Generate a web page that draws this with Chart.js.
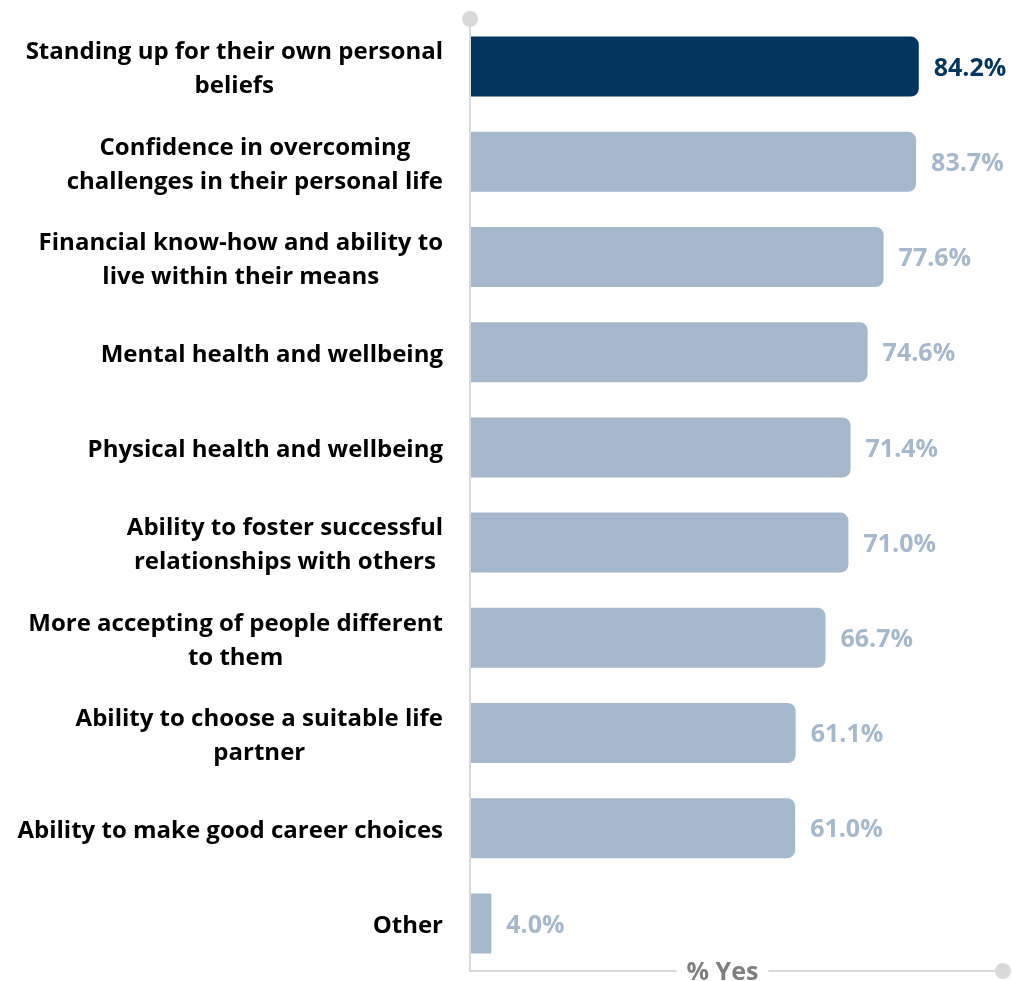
<!DOCTYPE html>
<html>
<head>
<meta charset="utf-8">
<script src="https://cdn.jsdelivr.net/npm/chart.js@4/dist/chart.umd.min.js"></script>
<style>
  html, body { margin: 0; padding: 0; background: #ffffff; }
  #wrap { width: 1013px; height: 981px; position: relative; }
</style>
</head>
<body>
<div id="wrap"><canvas id="chart" width="1013" height="981"></canvas></div>
<script>
// Survey outcomes: share answering "Yes"
const categories = [
  ["Standing up for their own personal", "beliefs"],
  ["Confidence in overcoming", "challenges in their personal life"],
  ["Financial know-how and ability to", "live within their means"],
  ["Mental health and wellbeing"],
  ["Physical health and wellbeing"],
  ["Ability to foster successful", "relationships with others"],
  ["More accepting of people different", "to them"],
  ["Ability to choose a suitable life", "partner"],
  ["Ability to make good career choices"],
  ["Other"]
];
const yesValues = [84.2, 83.7, 77.6, 74.6, 71.4, 71.0, 66.7, 61.1, 61.0, 4.0];
const axisTitle = "% Yes";

const DARK = "#03355F";
const LIGHT = "#A6B8CB";
const AXIS = "#D9D9D9";
const FONT = "'Open Sans', sans-serif";

const barColors = yesValues.map((v, i) => i === 0 ? DARK : LIGHT);

// Category labels: right-aligned blocks, lines centred inside each block
const categoryLabels = {
  id: "categoryLabels",
  afterDraw(chart) {
    const ctx = chart.ctx;
    const y = chart.scales.y;
    const right = chart.chartArea.left - 27;
    const lineH = 34;
    ctx.save();
    ctx.font = "bold 24px " + FONT;
    ctx.fillStyle = "#000000";
    ctx.textBaseline = "middle";
    ctx.textAlign = "center";
    categories.forEach((lines, i) => {
      const cy = y.getPixelForValue(i) + 3;
      const w = Math.max(...lines.map(l => ctx.measureText(l).width));
      const cx = right - w / 2;
      const top = cy - (lines.length - 1) * lineH / 2;
      lines.forEach((l, k) => ctx.fillText(l, cx, top + k * lineH));
    });
    ctx.restore();
  }
};

// Value labels just past the end of each bar
const valueLabels = {
  id: "valueLabels",
  afterDatasetsDraw(chart) {
    const ctx = chart.ctx;
    const meta = chart.getDatasetMeta(0);
    ctx.save();
    ctx.font = "bold 25px " + FONT;
    ctx.textBaseline = "middle";
    ctx.textAlign = "left";
    meta.data.forEach((bar, i) => {
      ctx.fillStyle = barColors[i];
      ctx.fillText(yesValues[i].toFixed(1) + "%", bar.x + 15, bar.y + 2);
    });
    ctx.restore();
  }
};

// Axis lines with round end markers and the axis title sitting on the baseline
const axisFrame = {
  id: "axisFrame",
  afterDatasetsDraw(chart) {
    const ctx = chart.ctx;
    const a = chart.chartArea;
    const x0 = chart.scales.x.getPixelForValue(0);
    const x1 = chart.scales.x.getPixelForValue(100);
    ctx.save();
    ctx.strokeStyle = AXIS;
    ctx.lineWidth = 2;
    ctx.beginPath();
    ctx.moveTo(x0, a.top);
    ctx.lineTo(x0, a.bottom);
    ctx.lineTo(x1, a.bottom);
    ctx.stroke();
    ctx.fillStyle = AXIS;
    ctx.beginPath();
    ctx.arc(x0, a.top, 8, 0, Math.PI * 2);
    ctx.fill();
    ctx.beginPath();
    ctx.arc(x1, a.bottom, 8, 0, Math.PI * 2);
    ctx.fill();
    ctx.font = "bold 25px " + FONT;
    const cx = (x0 + x1) / 2 - 14;
    const tw = ctx.measureText(axisTitle).width;
    ctx.fillStyle = "#ffffff";
    ctx.fillRect(cx - tw / 2 - 10, a.bottom - 12, tw + 20, 24);
    ctx.fillStyle = "#7F7F7F";
    ctx.textAlign = "center";
    ctx.textBaseline = "middle";
    ctx.fillText(axisTitle, cx, a.bottom + 2);
    ctx.restore();
  }
};

new Chart(document.getElementById("chart"), {
  type: "bar",
  data: {
    labels: categories,
    datasets: [{
      data: yesValues,
      backgroundColor: barColors,
      borderWidth: 0,
      borderSkipped: "start",
      borderRadius: (c) => c.dataIndex === yesValues.length - 1 ? 1 :
        { topRight: 8, bottomRight: 8, topLeft: 0, bottomLeft: 0 },
      barPercentage: 0.63,
      categoryPercentage: 1
    }]
  },
  options: {
    indexAxis: "y",
    responsive: false,
    animation: false,
    layout: { padding: { top: 19, right: 10, bottom: 10, left: 0 } },
    plugins: { legend: { display: false }, tooltip: { enabled: false } },
    scales: {
      x: {
        min: 0, max: 100,
        display: false
      },
      y: {
        display: true,
        grid: { display: false },
        border: { display: false },
        ticks: { display: false },
        afterFit(scale) { scale.width = 470; }
      }
    }
  },
  plugins: [categoryLabels, valueLabels, axisFrame]
});
</script>
</body>
</html>
